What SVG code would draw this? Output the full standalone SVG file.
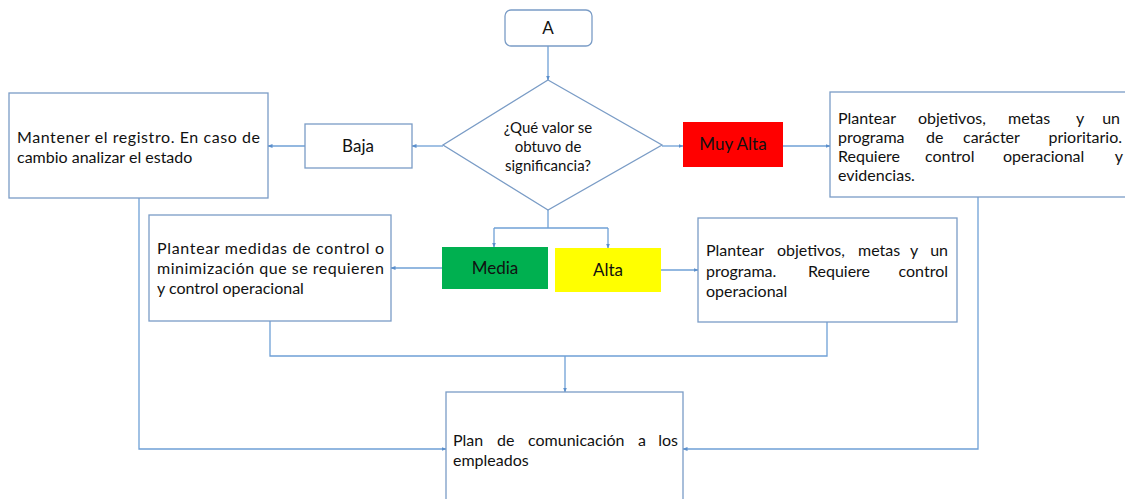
<svg xmlns="http://www.w3.org/2000/svg" width="1125" height="499" viewBox="0 0 1125 499">
  <style>
    .box { fill: #ffffff; stroke: #7a9cc6; stroke-width: 1.3; }
    .conn { fill: none; stroke: #6fa0d6; stroke-width: 1.3; }
    .t { font-family: Lato, "Open Sans", "Liberation Sans", sans-serif; font-size: 16px; fill: #111111; }
    .tc { text-anchor: middle; }
    .te { text-anchor: end; }
    .lbl { font-size: 17px; }
    .q { font-size: 15px; }
  </style>
  <defs>
    <marker id="arrow" viewBox="0 0 10 10" refX="9" refY="5" markerWidth="5" markerHeight="5" orient="auto-start-reverse" markerUnits="userSpaceOnUse">
      <path d="M0,1 L10,5 L0,9 Z" fill="#5b8fcc"/>
    </marker>
  </defs>
  <rect width="1125" height="499" fill="#ffffff"/>

  <!-- connectors -->
  <g id="connectors" class="conn">
    <path d="M548,46 V80" marker-end="url(#arrow)"/>
    <path d="M443,146 H412" marker-end="url(#arrow)"/>
    <path d="M305,146 H268" marker-end="url(#arrow)"/>
    <path d="M662,146 H683" marker-end="url(#arrow)"/>
    <path d="M783,146 H830" marker-end="url(#arrow)"/>
    <path d="M548,210 V228"/>
    <path d="M494,228 H608"/>
    <path d="M494,228 V247" marker-end="url(#arrow)"/>
    <path d="M608,228 V248" marker-end="url(#arrow)"/>
    <path d="M442,268 H391" marker-end="url(#arrow)"/>
    <path d="M661,270 H698" marker-end="url(#arrow)"/>
    <path d="M270,321 V356 H827 V322"/>
    <path d="M565,356 V392" marker-end="url(#arrow)"/>
    <path d="M139,198 V449 H446" marker-end="url(#arrow)"/>
    <path d="M978,197 V449 H683" marker-end="url(#arrow)"/>
  </g>

  <!-- start -->
  <g id="node-a">
    <rect class="box" x="505" y="10" width="87" height="36" rx="6"/>
    <text class="t tc lbl" x="548" y="34">A</text>
  </g>

  <!-- decision -->
  <g id="node-decision">
    <polygon class="box" points="548,80 662,145 548,210 443,145"/>
    <text class="t tc q" x="548" y="133">¿Qué valor se</text>
    <text class="t tc q" x="548" y="152">obtuvo de</text>
    <text class="t tc q" x="548" y="171">significancia?</text>
  </g>

  <!-- Baja -->
  <g id="node-baja">
    <rect class="box" x="305" y="124" width="107" height="44"/>
    <text class="t tc lbl" x="358" y="152">Baja</text>
  </g>

  <g id="node-mantener">
    <rect class="box" x="9" y="93" width="259" height="105"/>
    <text class="t" x="17" y="143" textLength="243" lengthAdjust="spacing">Mantener el registro. En caso de</text>
    <text class="t" x="17" y="163">cambio analizar el estado</text>
  </g>

  <!-- Muy Alta -->
  <g id="node-muy-alta">
    <rect x="683" y="122" width="100" height="45" fill="#ff0000"/>
    <text class="t tc lbl" x="733" y="150">Muy Alta</text>
  </g>

  <g id="node-prioritario">
    <rect class="box" x="830" y="92" width="310" height="105"/>
    <text class="t" x="838" y="124">Plantear</text>
    <text class="t" x="918" y="124">objetivos,</text>
    <text class="t" x="1008" y="124">metas</text>
    <text class="t" x="1076" y="124">y</text>
    <text class="t te" x="1120" y="124">un</text>
    <text class="t" x="838" y="143">programa</text>
    <text class="t" x="926" y="143">de</text>
    <text class="t" x="963" y="143">carácter</text>
    <text class="t te" x="1122" y="143">prioritario.</text>
    <text class="t" x="838" y="162">Requiere</text>
    <text class="t" x="925" y="162">control</text>
    <text class="t" x="1003" y="162">operacional</text>
    <text class="t te" x="1123" y="162">y</text>
    <text class="t" x="838" y="181">evidencias.</text>
  </g>

  <!-- Media -->
  <g id="node-media">
    <rect x="442" y="247" width="106" height="42" fill="#00b050"/>
    <text class="t tc lbl" x="495" y="274">Media</text>
  </g>

  <!-- Alta -->
  <g id="node-alta">
    <rect x="555" y="248" width="106" height="44" fill="#ffff00"/>
    <text class="t tc lbl" x="608" y="276">Alta</text>
  </g>

  <g id="node-medidas">
    <rect class="box" x="149" y="215" width="242" height="106"/>
    <text class="t" x="157" y="254" textLength="227" lengthAdjust="spacing">Plantear medidas de control o</text>
    <text class="t" x="157" y="274" textLength="227" lengthAdjust="spacing">minimización que se requieren</text>
    <text class="t" x="157" y="294">y control operacional</text>
  </g>

  <g id="node-programa">
    <rect class="box" x="698" y="218" width="259" height="104"/>
    <text class="t" x="706" y="256">Plantear</text>
    <text class="t" x="777" y="256">objetivos,</text>
    <text class="t" x="858" y="256">metas</text>
    <text class="t" x="910" y="256">y</text>
    <text class="t te" x="948" y="256">un</text>
    <text class="t" x="706" y="277">programa.</text>
    <text class="t" x="808" y="277">Requiere</text>
    <text class="t te" x="948" y="277">control</text>
    <text class="t" x="706" y="297">operacional</text>
  </g>

  <g id="node-plan">
    <rect class="box" x="446" y="392" width="237" height="120"/>
    <text class="t" x="453" y="446">Plan</text>
    <text class="t" x="497" y="446">de</text>
    <text class="t" x="528" y="446">comunicación</text>
    <text class="t" x="638" y="446">a</text>
    <text class="t te" x="678" y="446">los</text>
    <text class="t" x="453" y="466">empleados</text>
  </g>
</svg>
